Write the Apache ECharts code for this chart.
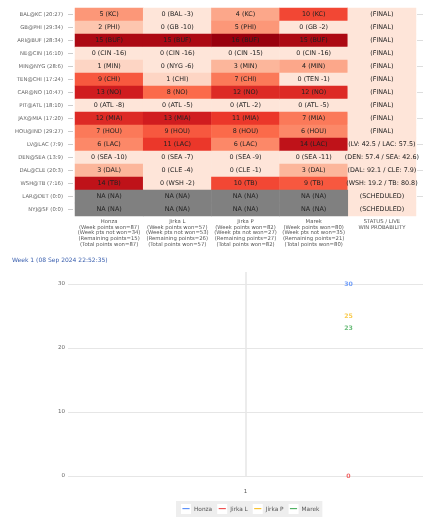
<!DOCTYPE html>
<html>
<head>
<meta charset="utf-8">
<script src="https://cdn.jsdelivr.net/npm/echarts@6/dist/echarts.min.js"></script>
<style>html,body{margin:0;padding:0;background:#fff}#c{width:435px;height:530px}</style>
</head>
<body>
<div id="c"></div>
<script>
var games = ['BAL@KC (20:27)','GB@PHI (29:34)','ARI@BUF (28:34)','NE@CIN (16:10)','MIN@NYG (28:6)','TEN@CHI (17:24)','CAR@NO (10:47)','PIT@ATL (18:10)','JAX@MIA (17:20)','HOU@IND (29:27)','LV@LAC (7:9)','DEN@SEA (13:9)','DAL@CLE (20:3)','WSH@TB (7:16)','LAR@DET (0:0)','NYJ@SF (0:0)'];
var columns = ['Honza\n(Week points won=87)\n(Week pts not won=34)\n(Remaining points=15)\n(Total points won=87)',
  'Jirka L\n(Week points won=57)\n(Week pts not won=53)\n(Remaining points=26)\n(Total points won=57)',
  'Jirka P\n(Week points won=82)\n(Week pts not won=27)\n(Remaining points=27)\n(Total points won=82)',
  'Marek\n(Week points won=80)\n(Week pts not won=35)\n(Remaining points=21)\n(Total points won=80)',
  'STATUS / LIVE\nWIN PROBABILITY'];
// points per player per game (null = NA)
var honzaPts  = [5,2,15,0,1,9,13,0,12,7,6,0,3,14,null,null];
var honzaTxt  = ['KC','PHI','BUF','CIN -16','MIN','CHI','NO','ATL -8','MIA','HOU','LAC','SEA -10','DAL','TB','NA','NA'];
var jirkaLPts = [0,0,15,0,0,1,8,0,13,9,11,0,0,0,null,null];
var jirkaLTxt = ['BAL -3','GB -10','BUF','CIN -16','NYG -6','CHI','NO','ATL -5','MIA','HOU','LAC','SEA -7','CLE -4','WSH -2','NA','NA'];
var jirkaPPts = [4,5,16,0,3,7,12,0,11,8,6,0,0,10,null,null];
var jirkaPTxt = ['KC','PHI','BUF','CIN -15','MIN','CHI','NO','ATL -2','MIA','HOU','LAC','SEA -9','CLE -1','TB','NA','NA'];
var marekPts  = [10,0,15,0,4,0,12,0,7,6,14,0,3,9,null,null];
var marekTxt  = ['KC','GB -2','BUF','CIN -16','MIN','TEN -1','NO','ATL -5','MIA','HOU','LAC','SEA -11','DAL','TB','NA','NA'];
var statusTxt = ['(FINAL)','(FINAL)','(FINAL)','(FINAL)','(FINAL)','(FINAL)','(FINAL)','(FINAL)','(FINAL)','(FINAL)','(LV: 42.5 / LAC: 57.5)','(DEN: 57.4 / SEA: 42.6)','(DAL: 92.1 / CLE: 7.9)','(WSH: 19.2 / TB: 80.8)','(SCHEDULED)','(SCHEDULED)'];

var weeks = ['1'];
var players = ['Honza','Jirka L','Jirka P','Marek'];
var honzaTotal = [30];
var jirkaLTotal = [0];
var jirkaPTotal = [25];
var marekTotal = [23];
var lineColors = ['#5b8ff9','#ee4f4f','#f8c12d','#4fb062'];

var heat = [], naCells = [];
[[honzaPts,honzaTxt],[jirkaLPts,jirkaLTxt],[jirkaPPts,jirkaPTxt],[marekPts,marekTxt]].forEach(function(p, ci){
  games.forEach(function(g, ri){
    var v = p[0][ri];
    if (v === null) naCells.push([ci, ri, 0, 'NA (' + p[1][ri] + ')']);
    else heat.push([ci, ri, v, v + ' (' + p[1][ri] + ')']);
  });
});
games.forEach(function(g, ri){ heat.push([4, ri, 0, statusTxt[ri]]); });

var F = 'DejaVu Sans';
var chart = echarts.init(document.getElementById('c'));
var totals = [honzaTotal, jirkaLTotal, jirkaPTotal, marekTotal];
var cellLabel = {show: true, fontSize: 6.4, color: '#222', fontFamily: F,
  formatter: function(p){ return p.data[3]; }};
var rich = {t: {fontSize: 5.8, color: '#555', fontFamily: F, padding: [0, 0, 0, 3]}};
lineColors.forEach(function(c, i){
  rich['i' + i] = {backgroundColor: '#ffffff', color: c, width: 10, height: 10, align: 'center',
    fontSize: 8, fontWeight: 'bold', fontFamily: F, lineHeight: 10};
});
chart.setOption({
  animation: false,
  textStyle: {fontFamily: F},
  title: {text: 'Week 1 (08 Sep 2024 22:52:35)', left: 7, top: 252,
    textStyle: {fontFamily: F, fontSize: 6, fontWeight: 'normal', color: '#3a5fae'}},
  grid: [
    {left: 75, top: 8, width: 341, height: 208},
    {left: 68, right: 12, top: 284, bottom: 54}
  ],
  xAxis: [
    {type: 'category', gridIndex: 0, data: columns, position: 'bottom',
      axisLine: {show: false}, axisTick: {show: false},
      axisLabel: {fontSize: 5.3, lineHeight: 5.6, color: '#555', margin: 3, interval: 0, fontFamily: F},
      splitLine: {show: false}},
    {type: 'category', gridIndex: 1, data: weeks, offset: 10,
      axisLine: {show: false},
      axisTick: {show: true, alignWithLabel: true, inside: true, length: 204, lineStyle: {color: '#e6e6e6', width: 1.5}},
      axisLabel: {fontSize: 5.5, color: '#555', margin: 3, fontFamily: F}}
  ],
  yAxis: [
    {type: 'category', gridIndex: 0, data: games, inverse: true, offset: 2,
      axisLine: {show: false}, axisTick: {show: true, length: 5, alignWithLabel: true, lineStyle: {color: '#cccccc'}},
      axisLabel: {fontSize: 5.3, color: '#666', margin: 10, fontFamily: F}},
    {type: 'category', gridIndex: 0, data: games, inverse: true, position: 'right', offset: 1,
      axisLine: {show: false}, axisTick: {show: true, length: 6, alignWithLabel: true, lineStyle: {color: '#dddddd'}},
      axisLabel: {show: false}},
    {type: 'value', gridIndex: 1, min: 0, max: 30, interval: 10,
      axisLine: {show: false}, axisTick: {show: false},
      axisLabel: {fontSize: 5.5, color: '#666', margin: 3, fontFamily: F},
      splitLine: {lineStyle: {color: '#e6e6e6', width: 1.2}}}
  ],
  visualMap: {type: 'continuous', show: false, min: 0, max: 16, seriesIndex: 0, dimension: 2,
    inRange: {color: ['#fee5d9','#fcbba1','#fc9272','#fb6a4a','#ef3b2c','#cb181d','#99000d']}},
  legend: {data: players, top: 501, left: 176, backgroundColor: '#eeeeee',
    padding: [3, 3, 3, 0], itemWidth: 0, itemHeight: 0, itemGap: 0, icon: 'rect',
    formatter: function(name){ return '{i' + players.indexOf(name) + '|—}{t|' + name + '}'; },
    textStyle: {fontSize: 5.8, color: '#555', fontFamily: F, rich: rich, padding: 0}},
  series: [{
    type: 'heatmap', xAxisIndex: 0, yAxisIndex: 0, data: heat,
    label: cellLabel, itemStyle: {borderWidth: 0}
  }, {
    type: 'heatmap', xAxisIndex: 0, yAxisIndex: 0, data: naCells,
    label: cellLabel, itemStyle: {borderWidth: 0, color: '#808080'}
  }].concat(players.map(function(n, i){
    return {type: 'line', name: n, xAxisIndex: 1, yAxisIndex: 2, data: totals[i],
      color: lineColors[i], symbol: 'circle', symbolSize: 1, itemStyle: {opacity: 0},
      lineStyle: {width: 2},
      label: {show: true, position: 'inside', offset: [103, 0], color: lineColors[i], fontSize: 6.2, fontWeight: 'bold', fontFamily: F, opacity: 0.85}};
  }))
});
</script>
</body>
</html>
